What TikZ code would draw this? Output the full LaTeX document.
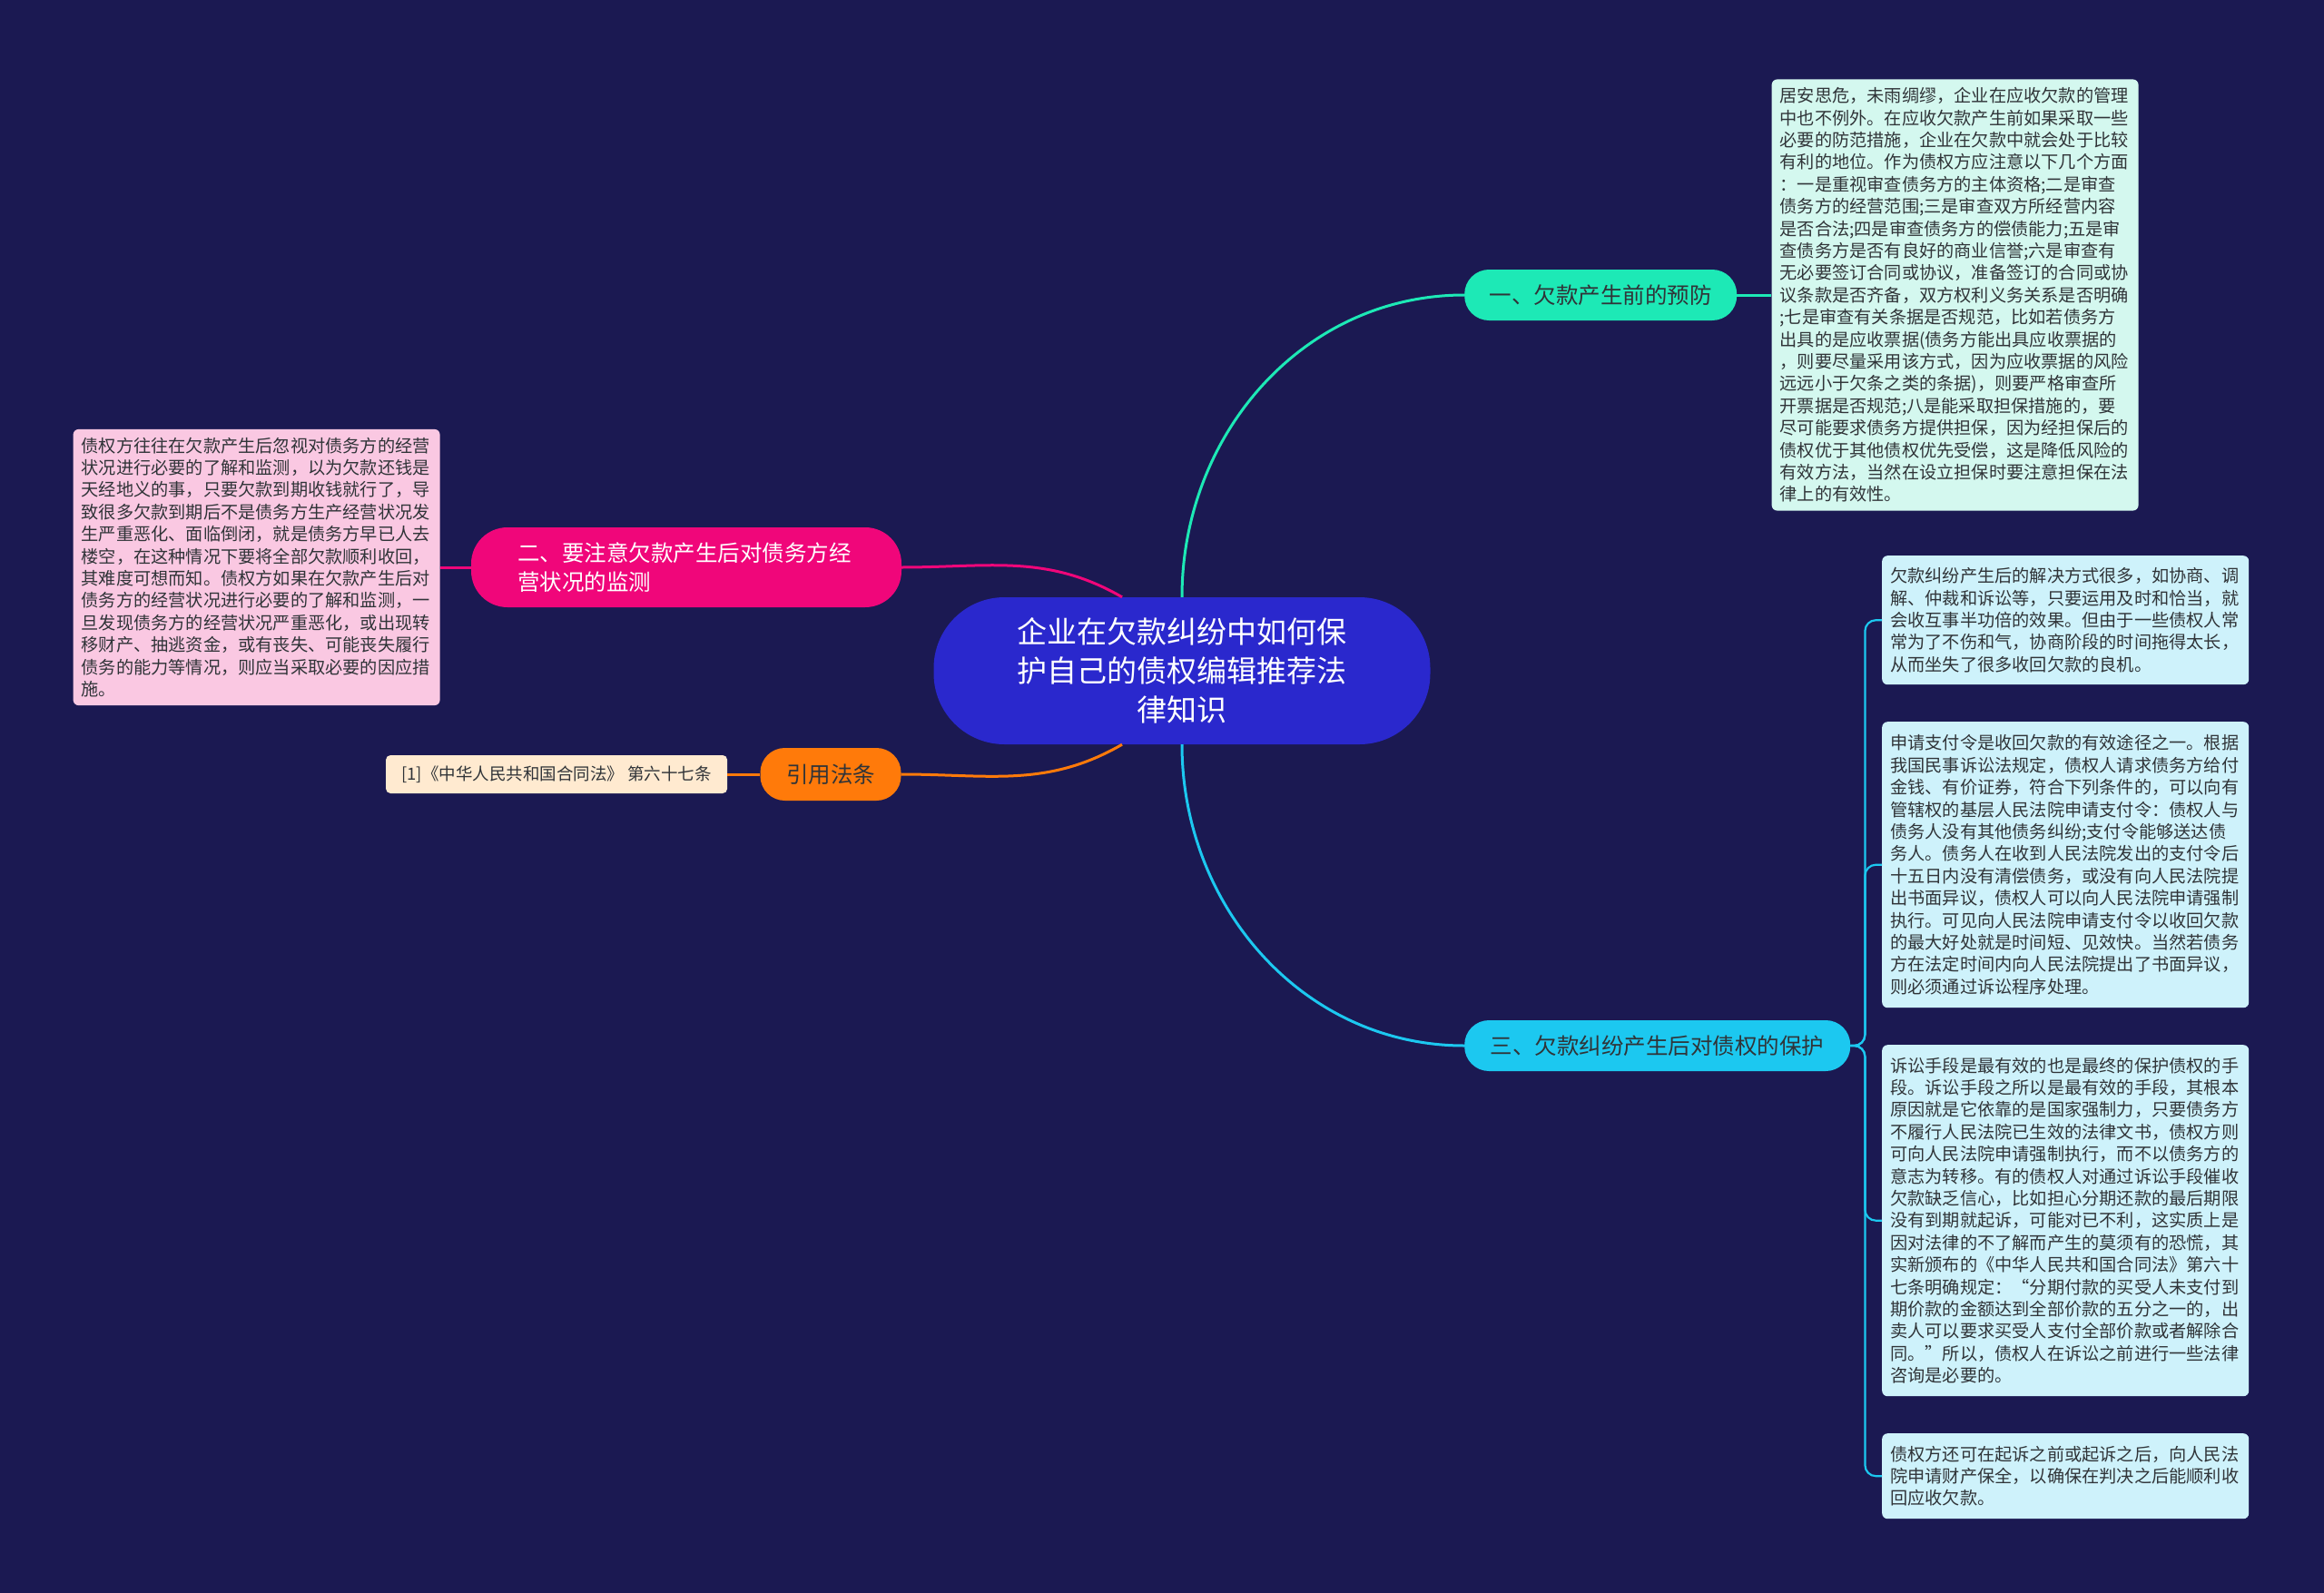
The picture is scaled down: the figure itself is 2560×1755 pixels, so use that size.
\documentclass[tikz,border=0pt]{standalone}
\usepackage{fontspec}
\setmainfont{Noto Sans CJK SC}
\usetikzlibrary{positioning}

\definecolor{bgnavy}{RGB}{27,25,82}
\definecolor{topicblue}{RGB}{42,40,205}
\definecolor{mintbr}{RGB}{29,233,182}
\definecolor{mintleaf}{RGB}{212,248,239}
\definecolor{magbr}{RGB}{240,6,122}
\definecolor{pinkleaf}{RGB}{250,200,226}
\definecolor{orangebr}{RGB}{255,122,10}
\definecolor{creamleaf}{RGB}{255,234,208}
\definecolor{cyanbr}{RGB}{28,200,240}
\definecolor{cyanleaf}{RGB}{206,242,251}
\definecolor{leaftext}{RGB}{48,52,56}

\tikzstyle{topic} = [rectangle, rounded corners=78pt, minimum width=547pt, minimum height=162pt, align=center, fill=topicblue, text=white, font=\fontsize{33}{43}\selectfont]
\tikzstyle{branch} = [rectangle, rounded corners=27pt, minimum height=56pt, text=leaftext, font=\fontsize{24.5}{32.7}\selectfont]
\tikzstyle{leaf} = [rectangle, rounded corners=6pt, text width=386pt, inner xsep=9pt, inner ysep=9pt, align=left, text=leaftext, font=\fontsize{19.2}{24.4}\selectfont]
\tikzstyle{cite} = [rectangle, rounded corners=5pt, minimum width=376pt, minimum height=42pt, text=leaftext, font=\fontsize{18.5}{22}\selectfont]
\tikzstyle{link} = [line width=3pt]
\tikzstyle{twig} = [line width=2.2pt, draw=cyanbr, rounded corners=12pt]

\begin{document}
\begin{tikzpicture}[x=1pt, y=-1pt]
      \fill [bgnavy] (0,0) rectangle (2560,1755);
      \useasboundingbox (0,0) rectangle (2560,1755);

      \node (ctr) [topic] at (1302,739) {企业在欠款纠纷中如何保\\护自己的债权编辑推荐法\\律知识};

      \node (b1) [branch, fill=mintbr, anchor=west, minimum width=300pt] at (1613,325) {一、欠款产生前的预防};
      \node (l1) [leaf, fill=mintleaf, right=38pt of b1] {居安思危，未雨绸缪，企业在应收欠款的管理\\中也不例外。在应收欠款产生前如果采取一些\\必要的防范措施，企业在欠款中就会处于比较\\有利的地位。作为债权方应注意以下几个方面\\：一是重视审查债务方的主体资格;二是审查\\债务方的经营范围;三是审查双方所经营内容\\是否合法;四是审查债务方的偿债能力;五是审\\查债务方是否有良好的商业信誉;六是审查有\\无必要签订合同或协议，准备签订的合同或协\\议条款是否齐备，双方权利义务关系是否明确\\;七是审查有关条据是否规范，比如若债务方\\出具的是应收票据(债务方能出具应收票据的\\，则要尽量采用该方式，因为应收票据的风险\\远远小于欠条之类的条据)，则要严格审查所\\开票据是否规范;八是能采取担保措施的，要\\尽可能要求债务方提供担保，因为经担保后的\\债权优于其他债权优先受偿，这是降低风险的\\有效方法，当然在设立担保时要注意担保在法\\律上的有效性。};

      \node (b2) [branch, fill=magbr, text=white, rounded corners=40pt, text width=372pt, align=left, inner xsep=51pt, minimum height=88pt] at (756,625) {二、要注意欠款产生后对债务方经\\营状况的监测};
      \node (l2) [leaf, fill=pinkleaf, left=34pt of b2] {债权方往往在欠款产生后忽视对债务方的经营\\状况进行必要的了解和监测，以为欠款还钱是\\天经地义的事，只要欠款到期收钱就行了，导\\致很多欠款到期后不是债务方生产经营状况发\\生严重恶化、面临倒闭，就是债务方早已人去\\楼空，在这种情况下要将全部欠款顺利收回，\\其难度可想而知。债权方如果在欠款产生后对\\债务方的经营状况进行必要的了解和监测，一\\旦发现债务方的经营状况严重恶化，或出现转\\移财产、抽逃资金，或有丧失、可能丧失履行\\债务的能力等情况，则应当采取必要的因应措\\施。};

      \node (b0) [branch, fill=orangebr, minimum width=155pt, minimum height=58pt] at (915,853) {引用法条};
      \node (l0) [cite, fill=creamleaf, left=36pt of b0] {[1]《中华人民共和国合同法》 第六十七条};

      \node (b3) [branch, fill=cyanbr, anchor=west, minimum width=425pt] at (1613,1152) {三、欠款纠纷产生后对债权的保护};
      \node (r1) [leaf, fill=cyanleaf, anchor=north west, minimum height=142pt] at (2073,612) {欠款纠纷产生后的解决方式很多，如协商、调\\解、仲裁和诉讼等，只要运用及时和恰当，就\\会收互事半功倍的效果。但由于一些债权人常\\常为了不伤和气，协商阶段的时间拖得太长，\\从而坐失了很多收回欠款的良机。};
      \node (r2) [leaf, fill=cyanleaf, anchor=north west, minimum height=315pt] at (2073,795) {申请支付令是收回欠款的有效途径之一。根据\\我国民事诉讼法规定，债权人请求债务方给付\\金钱、有价证券，符合下列条件的，可以向有\\管辖权的基层人民法院申请支付令：债权人与\\债务人没有其他债务纠纷;支付令能够送达债\\务人。债务人在收到人民法院发出的支付令后\\十五日内没有清偿债务，或没有向人民法院提\\出书面异议，债权人可以向人民法院申请强制\\执行。可见向人民法院申请支付令以收回欠款\\的最大好处就是时间短、见效快。当然若债务\\方在法定时间内向人民法院提出了书面异议，\\则必须通过诉讼程序处理。};
      \node (r3) [leaf, fill=cyanleaf, anchor=north west, minimum height=387pt] at (2073,1151) {诉讼手段是最有效的也是最终的保护债权的手\\段。诉讼手段之所以是最有效的手段，其根本\\原因就是它依靠的是国家强制力，只要债务方\\不履行人民法院已生效的法律文书，债权方则\\可向人民法院申请强制执行，而不以债务方的\\意志为转移。有的债权人对通过诉讼手段催收\\欠款缺乏信心，比如担心分期还款的最后期限\\没有到期就起诉，可能对已不利，这实质上是\\因对法律的不了解而产生的莫须有的恐慌，其\\实新颁布的《中华人民共和国合同法》第六十\\七条明确规定：“分期付款的买受人未支付到\\期价款的金额达到全部价款的五分之一的，出\\卖人可以要求买受人支付全部价款或者解除合\\同。”所以，债权人在诉讼之前进行一些法律\\咨询是必要的。};
      \node (r4) [leaf, fill=cyanleaf, anchor=north west, minimum height=94pt] at (2073,1579) {债权方还可在起诉之前或起诉之后，向人民法\\院申请财产保全，以确保在判决之后能顺利收\\回应收欠款。};

      \draw [link, draw=mintbr] (ctr.north) to[out=90,in=180] (b1.west);
      \draw [link, draw=mintbr] (b1.east) -- (l1.west);
      \draw [link, draw=magbr] (b2.east) to[out=0,in=150] ([xshift=-66pt]ctr.north);
      \draw [link, draw=magbr] (b2.west) -- (l2.east);
      \draw [link, draw=orangebr] (b0.east) to[out=0,in=-150] ([xshift=-66pt]ctr.south);
      \draw [link, draw=orangebr] (b0.west) -- (l0.east);
      \draw [link, draw=cyanbr] (ctr.south) to[out=-90,in=180] (b3.west);
      \foreach \r in {r1,r2,r3,r4}
        \draw [twig] (b3.east) -- ++(16,0) |- (\r.west);
    \end{tikzpicture}
\end{document}
